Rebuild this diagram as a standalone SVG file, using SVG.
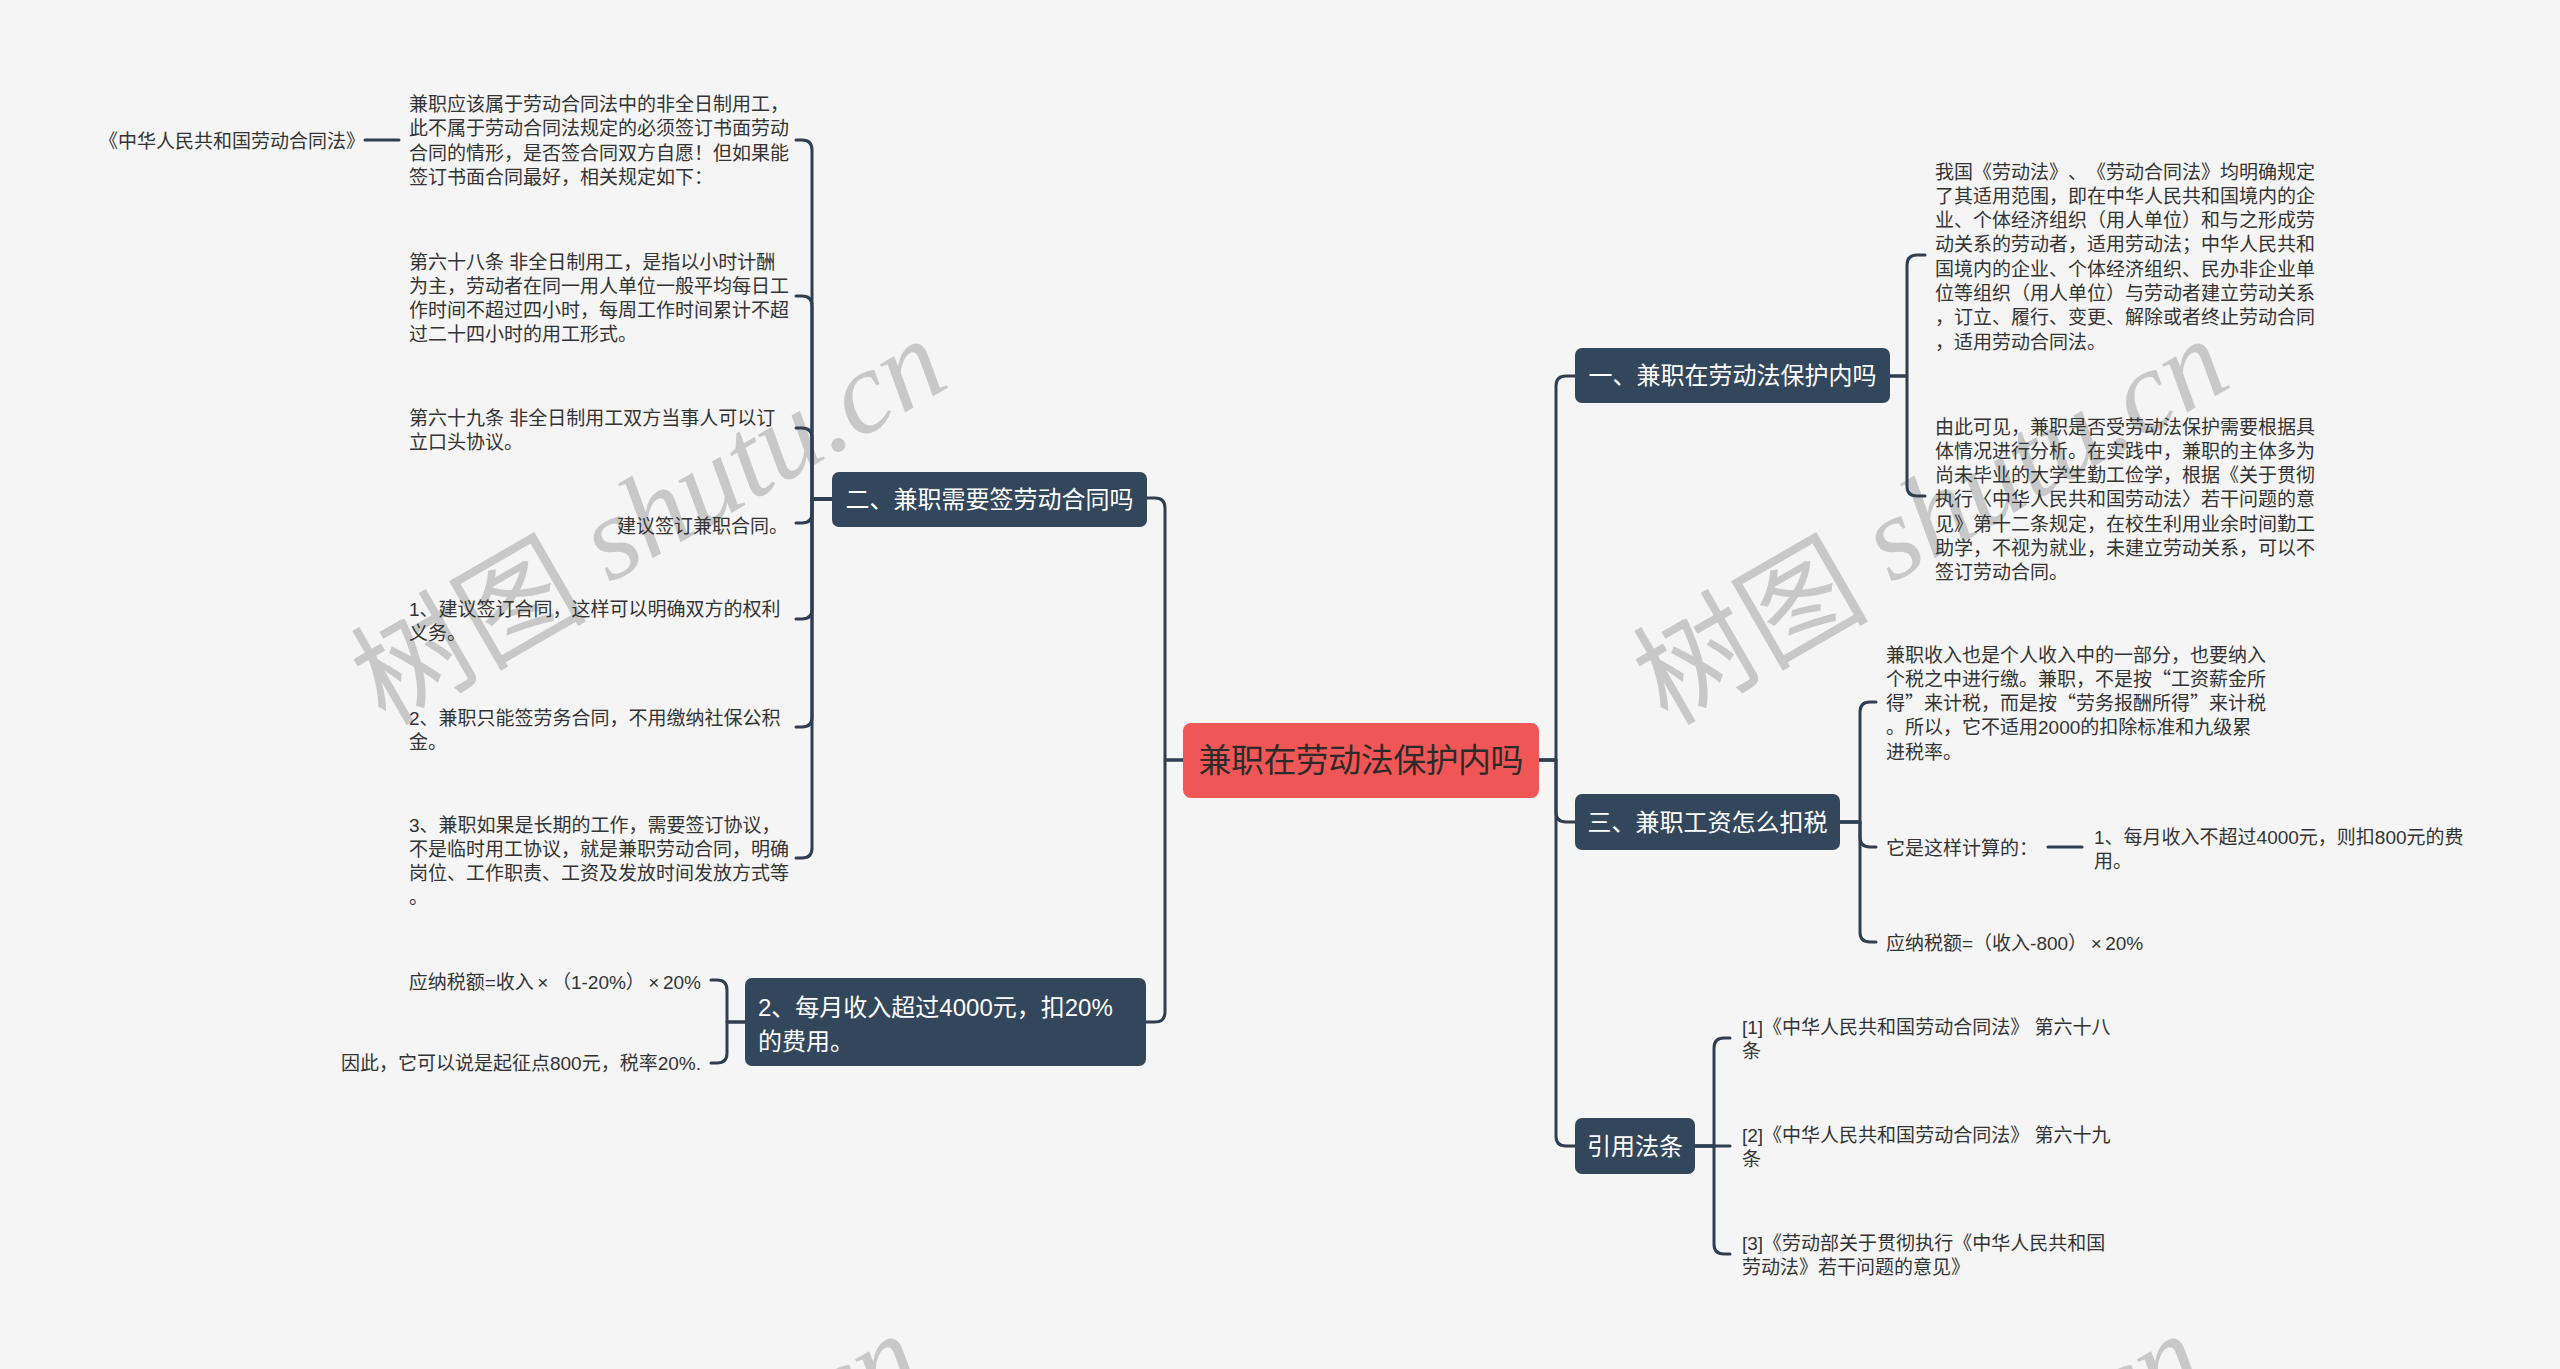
<svg xmlns="http://www.w3.org/2000/svg" width="2560" height="1369" viewBox="0 0 2560 1369">
<style>
text{text-spacing-trim:space-all}
.bg{fill:#f5f5f5}
.wm{fill:#c8c8c8;font-size:118px}
.wm .cn{font-family:"Noto Sans CJK SC",sans-serif}
.wm .lt{font-family:"Liberation Serif",serif;font-style:italic}
.node rect{fill:#32465c}
.node text{fill:#ffffff;font-family:"Liberation Sans","Noto Sans CJK SC",sans-serif;font-size:24px}
.root rect{fill:#f05656}
.root text{fill:#2b2b2b;font-family:"Liberation Sans","Noto Sans CJK SC",sans-serif;font-size:33px}
.leaf text{fill:#333333;font-family:"Liberation Sans","Noto Sans CJK SC",sans-serif;font-size:19px}
.q{font-family:"Noto Sans CJK SC",sans-serif}
.x{letter-spacing:3.5px}
.conn path{fill:none;stroke:#2e3f53;stroke-width:3;stroke-linecap:round;stroke-linejoin:round}
</style>
<rect class="bg" x="0" y="0" width="2560" height="1369"/>

<g id="watermarks">
<text class="wm" transform="translate(646,516) rotate(-30)" text-anchor="middle" dominant-baseline="central"><tspan class="cn">树图</tspan><tspan class="lt"> shutu.cn</tspan></text>
<text class="wm" transform="translate(1928,516) rotate(-30)" text-anchor="middle" dominant-baseline="central"><tspan class="cn">树图</tspan><tspan class="lt"> shutu.cn</tspan></text>
<text class="wm" transform="translate(621,1511) rotate(-30)" text-anchor="middle" dominant-baseline="central"><tspan class="cn">树图</tspan><tspan class="lt"> shutu.cn</tspan></text>
<text class="wm" transform="translate(1903,1511) rotate(-30)" text-anchor="middle" dominant-baseline="central"><tspan class="cn">树图</tspan><tspan class="lt"> shutu.cn</tspan></text>
</g>

<g id="connectors" class="conn">
<path d="M1183,760 H1165 V508 Q1165,498 1155,498 H1147"/>
<path d="M1183,760 H1165 V1012 Q1165,1022 1155,1022 H1146"/>
<path d="M1539,760 H1556 V386 Q1556,376 1566,376 H1575"/>
<path d="M1539,760 H1556 V812 Q1556,822 1566,822 H1575"/>
<path d="M1539,760 H1556 V1136 Q1556,1146 1566,1146 H1575"/>
<path d="M1890,376 H1907 V265 Q1907,255 1917,255 H1925"/>
<path d="M1890,376 H1907 V486 Q1907,496 1917,496 H1925"/>
<path d="M1840,822 H1860 V712 Q1860,702 1870,702 H1876"/>
<path d="M1840,822 H1860 V837 Q1860,847 1870,847 H1876"/>
<path d="M1840,822 H1860 V932 Q1860,942 1870,942 H1876"/>
<path d="M2048,847 H2082"/>
<path d="M1695,1146 H1714 V1048 Q1714,1038 1724,1038 H1730"/>
<path d="M1695,1146 H1730"/>
<path d="M1695,1146 H1714 V1244 Q1714,1254 1724,1254 H1730"/>
<path d="M832,499 H812 V150 Q812,140 802,140 H796"/>
<path d="M832,499 H812 V306 Q812,296 802,296 H796"/>
<path d="M832,499 H812 V438 Q812,428 802,428 H796"/>
<path d="M832,499 H812 V513 Q812,523 802,523 H796"/>
<path d="M832,499 H812 V609 Q812,619 802,619 H796"/>
<path d="M832,499 H812 V717 Q812,727 802,727 H796"/>
<path d="M832,499 H812 V848 Q812,858 802,858 H796"/>
<path d="M399,140 H365"/>
<path d="M745,1022 H727 V990 Q727,980 717,980 H711"/>
<path d="M745,1022 H727 V1053 Q727,1063 717,1063 H711"/>
</g>

<g id="root" class="root">
<rect x="1183" y="723" width="356" height="75" rx="8"/>
<text x="1361" y="772" text-anchor="middle" textLength="325" lengthAdjust="spacing">兼职在劳动法保护内吗</text>
</g>
<g id="n-yi" class="node">
<rect x="1575" y="348" width="315" height="55" rx="7"/>
<text x="1732.5" y="384" text-anchor="middle">一、兼职在劳动法保护内吗</text>
</g>
<g id="n-san" class="node">
<rect x="1575" y="794" width="265" height="56" rx="7"/>
<text x="1707.5" y="830.5" text-anchor="middle">三、兼职工资怎么扣税</text>
</g>
<g id="n-yinyong" class="node">
<rect x="1575" y="1118" width="120" height="56" rx="7"/>
<text x="1635" y="1154.5" text-anchor="middle">引用法条</text>
</g>
<g id="n-er" class="node">
<rect x="832" y="472" width="315" height="55" rx="7"/>
<text x="989.5" y="508" text-anchor="middle">二、兼职需要签劳动合同吗</text>
</g>
<g id="n-meiyue" class="node">
<rect x="745" y="978" width="401" height="88" rx="7"/>
<text><tspan x="758" y="1016.4">2、每月收入超过4000元，扣20%</tspan><tspan x="758" y="1050.4">的费用。</tspan></text>
</g>

<g id="leaf-a0" class="leaf"><text x="99" y="147.5">《中华人民共和国劳动合同法》</text></g>
<g id="leaf-a" class="leaf"><text><tspan x="409" y="111">兼职应该属于劳动合同法中的非全日制用工，</tspan><tspan x="409" y="135.3">此不属于劳动合同法规定的必须签订书面劳动</tspan><tspan x="409" y="159.6">合同的情形，是否签合同双方自愿！但如果能</tspan><tspan x="409" y="183.9">签订书面合同最好，相关规定如下：</tspan></text></g>
<g id="leaf-b" class="leaf"><text><tspan x="409" y="268.5">第六十八条 非全日制用工，是指以小时计酬</tspan><tspan x="409" y="292.8">为主，劳动者在同一用人单位一般平均每日工</tspan><tspan x="409" y="317.1">作时间不超过四小时，每周工作时间累计不超</tspan><tspan x="409" y="341.4">过二十四小时的用工形式。</tspan></text></g>
<g id="leaf-c" class="leaf"><text><tspan x="409" y="424.5">第六十九条 非全日制用工双方当事人可以订</tspan><tspan x="409" y="448.8">立口头协议。</tspan></text></g>
<g id="leaf-d" class="leaf"><text x="617" y="532.5">建议签订兼职合同。</text></g>
<g id="leaf-e" class="leaf"><text><tspan x="409" y="616">1、建议签订合同，这样可以明确双方的权利</tspan><tspan x="409" y="640.3">义务。</tspan></text></g>
<g id="leaf-f" class="leaf"><text><tspan x="409" y="724.5">2、兼职只能签劳务合同，不用缴纳社保公积</tspan><tspan x="409" y="748.8">金。</tspan></text></g>
<g id="leaf-g" class="leaf"><text><tspan x="409" y="831.5">3、兼职如果是长期的工作，需要签订协议，</tspan><tspan x="409" y="855.8">不是临时用工协议，就是兼职劳动合同，明确</tspan><tspan x="409" y="880.1">岗位、工作职责、工资及发放时间发放方式等</tspan><tspan x="409" y="904.4">。</tspan></text></g>
<g id="leaf-h" class="leaf"><text x="701" y="988.5" text-anchor="end">应纳税额=收入<tspan class="x" dx="3.5">×</tspan>（1-20%）<tspan class="x" dx="3.5">×</tspan>20%</text></g>
<g id="leaf-i" class="leaf"><text x="701" y="1069.5" text-anchor="end">因此，它可以说是起征点800元，税率20%.</text></g>

<g id="leaf-j" class="leaf"><text><tspan x="1935" y="178.5">我国《劳动法》、《劳动合同法》均明确规定</tspan><tspan x="1935" y="202.8">了其适用范围，即在中华人民共和国境内的企</tspan><tspan x="1935" y="227.1">业、个体经济组织（用人单位）和与之形成劳</tspan><tspan x="1935" y="251.4">动关系的劳动者，适用劳动法；中华人民共和</tspan><tspan x="1935" y="275.7">国境内的企业、个体经济组织、民办非企业单</tspan><tspan x="1935" y="300">位等组织（用人单位）与劳动者建立劳动关系</tspan><tspan x="1935" y="324.3">，订立、履行、变更、解除或者终止劳动合同</tspan><tspan x="1935" y="348.6">，适用劳动合同法。</tspan></text></g>
<g id="leaf-k" class="leaf"><text><tspan x="1935" y="433.5">由此可见，兼职是否受劳动法保护需要根据具</tspan><tspan x="1935" y="457.8">体情况进行分析。在实践中，兼职的主体多为</tspan><tspan x="1935" y="482.1">尚未毕业的大学生勤工俭学，根据《关于贯彻</tspan><tspan x="1935" y="506.4">执行〈中华人民共和国劳动法〉若干问题的意</tspan><tspan x="1935" y="530.7">见》第十二条规定，在校生利用业余时间勤工</tspan><tspan x="1935" y="555">助学，不视为就业，未建立劳动关系，可以不</tspan><tspan x="1935" y="579.3">签订劳动合同。</tspan></text></g>
<g id="leaf-l" class="leaf"><text><tspan x="1886" y="661.5">兼职收入也是个人收入中的一部分，也要纳入</tspan><tspan x="1886" y="685.8">个税之中进行缴。兼职，不是按<tspan class="q">“</tspan>工资薪金所</tspan><tspan x="1886" y="710.1">得<tspan class="q">”</tspan>来计税，而是按<tspan class="q">“</tspan>劳务报酬所得<tspan class="q">”</tspan>来计税</tspan><tspan x="1886" y="734.4">。所以，它不适用2000的扣除标准和九级累</tspan><tspan x="1886" y="758.7">进税率。</tspan></text></g>
<g id="leaf-m" class="leaf"><text x="1886" y="854.5">它是这样计算的：</text></g>
<g id="leaf-n" class="leaf"><text><tspan x="2094" y="843.5">1、每月收入不超过4000元，则扣800元的费</tspan><tspan x="2094" y="867.8">用。</tspan></text></g>
<g id="leaf-o" class="leaf"><text x="1886" y="949.5">应纳税额=（收入-800）<tspan class="x" dx="3.5">×</tspan>20%</text></g>
<g id="leaf-p" class="leaf"><text><tspan x="1742" y="1033.5">[1]《中华人民共和国劳动合同法》 第六十八</tspan><tspan x="1742" y="1057.8">条</tspan></text></g>
<g id="leaf-q" class="leaf"><text><tspan x="1742" y="1141.5">[2]《中华人民共和国劳动合同法》 第六十九</tspan><tspan x="1742" y="1165.8">条</tspan></text></g>
<g id="leaf-r" class="leaf"><text><tspan x="1742" y="1249.5">[3]《劳动部关于贯彻执行《中华人民共和国</tspan><tspan x="1742" y="1273.8">劳动法》若干问题的意见》</tspan></text></g>
</svg>
